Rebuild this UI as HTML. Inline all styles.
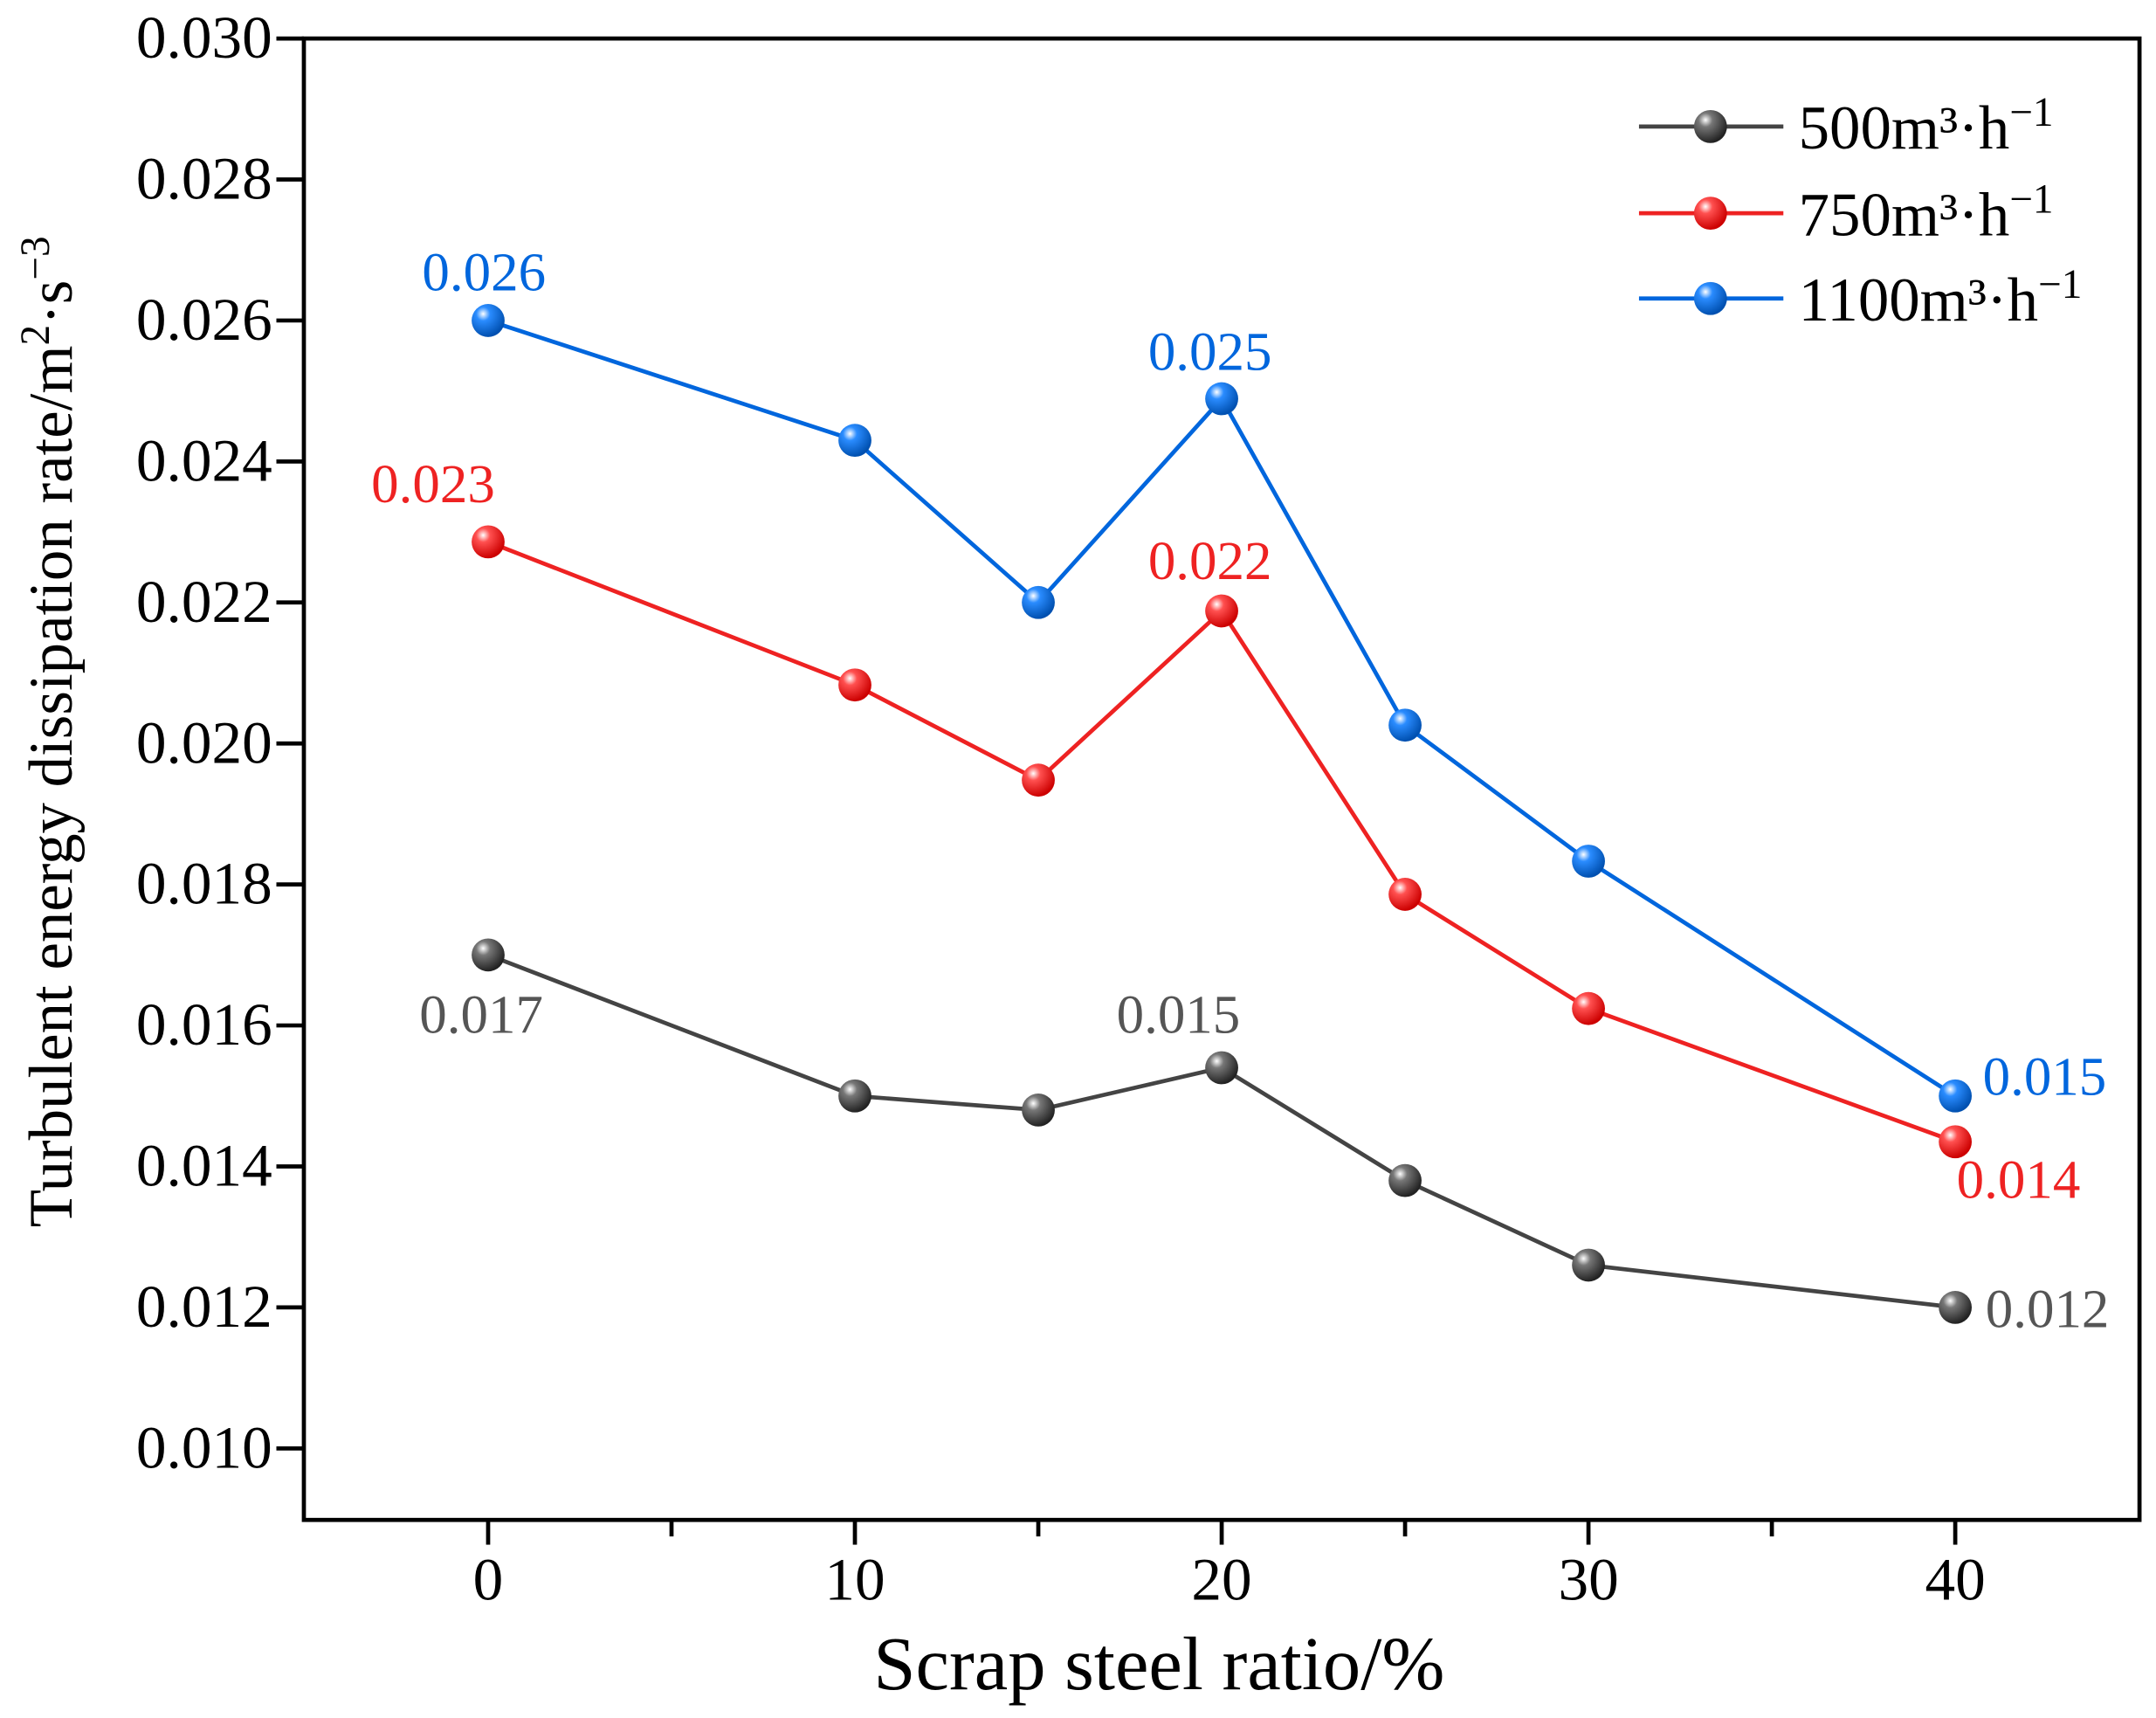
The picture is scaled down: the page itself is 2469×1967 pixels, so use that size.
<!DOCTYPE html>
<html><head><meta charset="utf-8"><style>
html,body{margin:0;padding:0;background:#fff;}
svg{display:block;font-family:"Liberation Serif",serif;}
</style></head><body>
<svg id="chart" width="2469" height="1967" viewBox="0 0 1568 1249" preserveAspectRatio="none" xmlns="http://www.w3.org/2000/svg">
<defs>
<radialGradient id="gk" cx="0.35" cy="0.3" r="0.7"><stop offset="0" stop-color="#fff"/><stop offset="0.3" stop-color="#777"/><stop offset="1" stop-color="#222"/></radialGradient>
<radialGradient id="gr" cx="0.35" cy="0.3" r="0.7"><stop offset="0" stop-color="#fff"/><stop offset="0.3" stop-color="#ff5050"/><stop offset="1" stop-color="#c00"/></radialGradient>
<radialGradient id="gb" cx="0.35" cy="0.3" r="0.7"><stop offset="0" stop-color="#fff"/><stop offset="0.3" stop-color="#2a8cff"/><stop offset="1" stop-color="#0050b0"/></radialGradient>
</defs>
<g id="plot"></g>
</svg>
<script>
const xs=[0,10,15,20,25,30,40];
const s500=[0.0170,0.0150,0.0148,0.0154,0.0138,0.0126,0.0120];
const s750=[0.02286,0.02083,0.01948,0.02188,0.01786,0.01624,0.01435];
const s1100=[0.0260,0.0243,0.0220,0.02489,0.02026,0.01833,0.0150];
const yTicks=["0.010","0.012","0.014","0.016","0.018","0.020","0.022","0.024","0.026","0.028","0.030"];
const xTicks=[0,10,20,30,40];
const NS="http://www.w3.org/2000/svg";
const L=221,R=1556,T=28,B=1105;
const X=v=>355+(v)*26.675;
const Y=v=>28+(0.030-v)*51250;
const g=document.getElementById('plot');
function mk(t,a,p){const e=document.createElementNS(NS,t);for(const k in a)e.setAttribute(k,a[k]);(p||g).appendChild(e);return e;}
const frame=mk('rect',{x:L,y:T,width:R-L,height:B-T,fill:'none',stroke:'#000','stroke-width':3});


yTicks.forEach(t=>{const y=Y(parseFloat(t));
 const ln=mk('line',{x1:L-20,x2:L,y1:y,y2:y,stroke:'#000','stroke-width':3});
 
 
 const tx=mk('text',{x:198,y:y+14,'text-anchor':'end','font-size':44});tx.textContent=t;
 
 
});
for(let v=-5;v<=45;v+=5){if(v===-5||v===45)continue;const x=X(v);
 const ln=mk('line',{x1:x,x2:x,y1:B,y2:B+(v%10===0?18:12),stroke:'#000','stroke-width':3});
 
 }
xTicks.forEach(v=>{const tx=mk('text',{x:X(v),y:1163,'text-anchor':'middle','font-size':44});tx.textContent=v;
 
 });
const xt=mk('text',{x:843,y:1228,'text-anchor':'middle','font-size':55});xt.textContent='Scrap steel ratio/%';


const yt=mk('text',{x:0,y:0,'text-anchor':'middle','font-size':45,transform:'translate(52,532) rotate(-90)'});
yt.innerHTML='Turbulent energy dissipation rate/m<tspan baseline-shift="super" font-size="30">2</tspan>·s<tspan baseline-shift="super" font-size="30">−3</tspan>';


const series=[{d:s1100,c:'#0066dd',gr:'gb',n:'1100'},{d:s750,c:'#ee2222',gr:'gr',n:'750'},{d:s500,c:'#444',gr:'gk',n:'500'}];
series.forEach(s=>{
 const pl=mk('polyline',{points:xs.map((x,i)=>X(x)+','+Y(s.d[i])).join(' '),fill:'none',stroke:s.c,'stroke-width':3});
 
 
 xs.forEach((x,i)=>{const c=mk('circle',{cx:X(x),cy:Y(s.d[i]),r:12,fill:'url(#'+s.gr+')'});
  
  });
});
const ann=[[352,211,'0.026','#0066dd','middle'],[880,269,'0.025','#0066dd','middle'],[1442,796,'0.015','#0066dd','start'],
[315,365,'0.023','#ee2222','middle'],[880,421,'0.022','#ee2222','middle'],[1423,871,'0.014','#ee2222','start'],
[350,751,'0.017','#555','middle'],[857,751,'0.015','#555','middle'],[1444,965,'0.012','#555','start']];
ann.forEach(a=>{const t=mk('text',{x:a[0],y:a[1],fill:a[3],'text-anchor':a[4],'font-size':40});t.textContent=a[2];
 
 });
const leg=[[92,'#444','gk','500'],[155,'#ee2222','gr','750'],[217,'#0066dd','gb','1100']];
leg.forEach(l=>{
 const ln=mk('line',{x1:1192,x2:1297,y1:l[0],y2:l[0],stroke:l[1],'stroke-width':3});
 
 
 const c=mk('circle',{cx:1244,cy:l[0],r:12,fill:'url(#'+l[2]+')'});
 
 
 const t=mk('text',{x:1308,y:l[0]+16,'font-size':45});
 t.innerHTML=l[3]+'m³·h<tspan baseline-shift="super" font-size="30">−1</tspan>';
 
 
});
</script>
</body></html>
